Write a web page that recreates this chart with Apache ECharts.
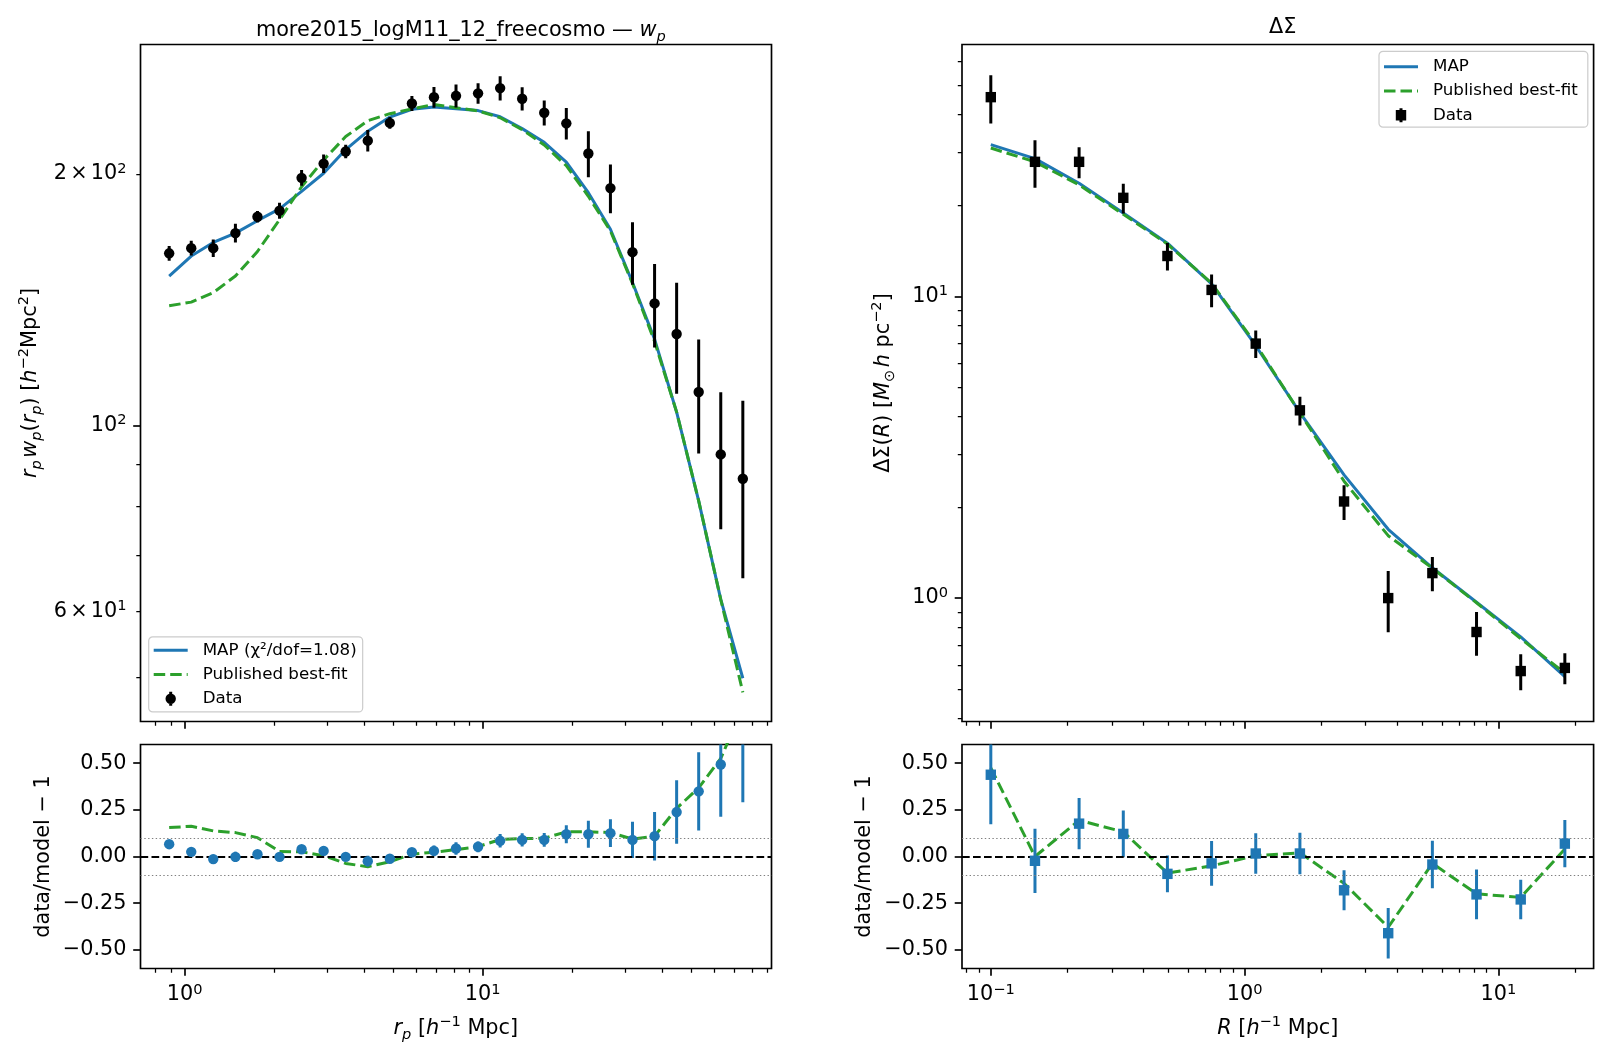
<!DOCTYPE html>
<html><head><meta charset="utf-8">
<script src="https://cdn.jsdelivr.net/npm/echarts@6/dist/echarts.min.js"></script>
<style>html,body{margin:0;padding:0;background:#fff}#c{width:1608px;height:1061px}</style>
</head><body><div id="c"></div>
<script>
// ---------- data: w_p panel ----------
const rpX = [0.888,1.053,1.248,1.481,1.756,2.082,2.469,2.927,3.471,4.116,4.880,5.787,6.862,8.136,9.647,11.44,13.56,16.08,19.07,22.61,26.81,31.79,37.70,44.70,53.00,62.85,74.53];
const wpData = [160.7,163.0,163.0,169.9,177.7,180.7,197.8,205.7,212.7,219.1,230.1,242.7,246.9,247.9,249.6,253.2,245.9,236.6,229.8,211.5,192.3,161.2,140.0,128.7,109.7,92.4,86.4];
const wpErr = [3.3,3.3,3.9,4.4,2.8,4.0,4.3,5.2,3.9,6.5,3.7,5.0,7.0,7.8,7.0,8.4,7.9,8.1,10.0,13.4,12.9,13.8,16.0,19.5,17.1,17.2,20.7];
const wpMap = [150.9,159.5,165.6,169.9,175.8,181.6,190.6,200.3,213.8,224.9,233.8,238.9,240.4,239.2,238.0,234.0,226.5,218.1,206.6,189.9,171.7,148.3,126.9,103.8,81.3,62.0,49.9];
const wpPub = [139.1,140.5,144.2,151.0,161.5,176.3,193.0,207.8,221.6,231.5,236.0,239.1,242.1,239.9,237.8,233.4,225.9,216.5,204.5,188.0,170.9,147.9,126.1,103.8,81.3,62.0,48.0];
const wpResMap = [0.066,0.025,-0.014,-0.002,0.012,-0.002,0.039,0.030,-0.002,-0.025,-0.012,0.023,0.030,0.043,0.052,0.084,0.089,0.089,0.119,0.119,0.125,0.089,0.109,0.238,0.349,0.493,0.74];
const wpResErr = [0.022,0.021,0.024,0.027,0.016,0.022,0.023,0.026,0.018,0.029,0.016,0.021,0.029,0.033,0.029,0.036,0.035,0.037,0.048,0.072,0.074,0.097,0.13,0.17,0.21,0.28,0.45];
const wpResPub = [0.155,0.162,0.137,0.128,0.101,0.027,0.025,0.004,-0.037,-0.055,-0.028,0.012,0.023,0.037,0.053,0.091,0.096,0.098,0.132,0.132,0.128,0.093,0.109,0.258,0.368,0.525,0.80];

// ---------- data: Delta Sigma panel ----------
const dsX = [0.1,0.1493,0.2228,0.3327,0.4966,0.7413,1.1066,1.652,2.466,3.681,5.495,8.203,12.25,18.28];
const dsData = [45.7,27.9,27.9,21.2,13.6,10.5,6.97,4.19,2.09,1.0,1.21,0.772,0.573,0.587];
const dsErr = [8.3,5.0,3.3,2.4,1.42,1.3,0.73,0.455,0.274,0.229,0.157,0.128,0.078,0.069];
const dsMap = [31.8,28.6,23.7,18.9,15.0,11.0,6.86,4.12,2.56,1.69,1.26,0.969,0.744,0.549];
const dsPub = [31.0,27.9,23.4,18.7,14.9,11.05,6.94,4.11,2.44,1.61,1.256,0.965,0.734,0.564];
const dsResMap = [0.438,-0.023,0.176,0.121,-0.093,-0.037,0.016,0.016,-0.181,-0.411,-0.043,-0.203,-0.23,0.069];
const dsResErr = [0.265,0.172,0.137,0.125,0.098,0.12,0.108,0.111,0.107,0.135,0.127,0.133,0.106,0.126];
const dsResPub = [0.475,0.0,0.194,0.132,-0.089,-0.05,0.004,0.02,-0.144,-0.379,-0.037,-0.2,-0.219,0.04];

// ---------- ticks ----------
const wpXMajor = [1,10];
const wpXMinor = [0.8,0.9,2,3,4,5,6,7,8,9,20,30,40,50,60,70,80,90];
const wpYMajor = [100];
const wpYLabels = [60,100,200];
const wpYMinor = [50,60,70,80,90,200];
const dsXMajor = [0.1,1,10];
const dsXMinor = [0.08,0.09,0.2,0.3,0.4,0.5,0.6,0.7,0.8,0.9,2,3,4,5,6,7,8,9,20];
const dsYMajor = [1,10];
const dsYMinor = [0.4,0.5,0.6,0.7,0.8,0.9,2,3,4,5,6,7,8,9,20,30,40,50,60];
const resTicks = [-0.5,-0.25,0,0.25,0.5];
const refLines = [0.1,-0.1];

const FONT = 'DejaVu Sans';
const BLUE = '#1f77b4', GREEN = '#2ca02c';
const DASH = [11.5,5];

const chart = echarts.init(document.getElementById('c'), null, {renderer:'canvas', width:1608, height:1061});

function pairs(xs, ys){ return xs.map((x,i)=>[x, ys[i]]); }
function bars(xs, ys, es){ return xs.map((x,i)=>[x, ys[i]-es[i], ys[i]+es[i]]); }
function errRender(color){
  return function(params, api){
    const x = api.value(0);
    const p1 = api.coord([x, api.value(1)]);
    const p2 = api.coord([x, api.value(2)]);
    return {type:'line', shape:{x1:p1[0], y1:p1[1], x2:p2[0], y2:p2[1]}, style:{stroke:color, lineWidth:3}};
  };
}
function expOf(v){ return Math.round(Math.log10(v)); }
function powLabel(v){
  const e = expOf(v);
  return '{b|10}{s|' + (e < 0 ? '\u2212' + (-e) : e) + '}';
}
function wpYLabel(v){
  if (Math.abs(v-100) < 1) return '{b|10}{s|2}';
  if (Math.abs(v-200) < 1) return '{b|2}{t| }{b|\u00d7}{t| }{b|10}{s|2}';
  if (Math.abs(v-60) < 1) return '{b|6}{t| }{b|\u00d7}{t| }{b|10}{s|1}';
  return '';
}
function resLabel(v){
  return (v < -1e-9 ? '\u2212' : '') + Math.abs(v).toFixed(2);
}
const TICK_RICH = {
  b: {fontFamily:FONT, fontSize:20.8, color:'#000', lineHeight:25},
  t: {fontFamily:FONT, fontSize:10, color:'#000', lineHeight:25},
  s: {fontFamily:FONT, fontSize:14.6, color:'#000', lineHeight:14, verticalAlign:'top'}
};
const TICK_STYLE_MAJOR = {show:true, length:7.3, lineStyle:{color:'#000', width:1.67}};
const TICK_STYLE_MINOR = {show:true, length:4.2, lineStyle:{color:'#000', width:1.25}};

function logXAxes(gi, min, max, majors, minors, showLabels){
  return [
    {type:'log', logBase:10, gridIndex:gi, position:'bottom', min:min, max:max,
     axisLine:{show:false, onZero:false}, splitLine:{show:false}, minorTick:{show:false},
     axisTick:Object.assign({customValues:majors}, TICK_STYLE_MAJOR),
     axisLabel:{show:showLabels, customValues:majors, margin:14, formatter:powLabel, rich:TICK_RICH, color:'#000', fontFamily:FONT, fontSize:20.8}},
    {type:'log', logBase:10, gridIndex:gi, position:'bottom', min:min, max:max,
     axisLine:{show:false, onZero:false}, splitLine:{show:false}, minorTick:{show:false},
     axisTick:Object.assign({customValues:minors}, TICK_STYLE_MINOR),
     axisLabel:{show:false}}
  ];
}
function logYAxes(gi, min, max, majors, labels, minors, fmt){
  return [
    {type:'log', logBase:10, gridIndex:gi, position:'left', min:min, max:max,
     axisLine:{show:false, onZero:false}, splitLine:{show:false}, minorTick:{show:false},
     axisTick:Object.assign({customValues:majors}, TICK_STYLE_MAJOR),
     axisLabel:{show:true, customValues:labels, margin:14, formatter:fmt, rich:TICK_RICH, color:'#000', fontFamily:FONT, fontSize:20.8}},
    {type:'log', logBase:10, gridIndex:gi, position:'left', min:min, max:max,
     axisLine:{show:false, onZero:false}, splitLine:{show:false}, minorTick:{show:false},
     axisTick:Object.assign({customValues:minors}, TICK_STYLE_MINOR),
     axisLabel:{show:false}}
  ];
}
function resYAxis(gi){
  return {type:'value', gridIndex:gi, position:'left', min:-0.6, max:0.6,
    axisLine:{show:false, onZero:false}, splitLine:{show:false}, minorTick:{show:false},
    axisTick:Object.assign({customValues:resTicks}, TICK_STYLE_MAJOR),
    axisLabel:{show:true, customValues:resTicks, margin:14, formatter:resLabel, color:'#000', fontFamily:FONT, fontSize:20.8}};
}

const gridBase = {show:true, borderColor:'#000', borderWidth:1.67, backgroundColor:'#fff', containLabel:false, outerBoundsMode:'none'};
const grids = [
  Object.assign({left:140.5, top:44.5, width:631, height:677}, gridBase),
  Object.assign({left:140.5, top:744.5, width:631, height:224}, gridBase),
  Object.assign({left:962, top:44.5, width:631.6, height:677}, gridBase),
  Object.assign({left:962, top:744.5, width:631.6, height:224}, gridBase)
];

const xAxes = [].concat(
  logXAxes(0, 0.7116, 93.0, wpXMajor, wpXMinor, false),
  logXAxes(1, 0.7116, 93.0, wpXMajor, wpXMinor, true),
  logXAxes(2, 0.0770, 23.73, dsXMajor, dsXMinor, false),
  logXAxes(3, 0.0770, 23.73, dsXMajor, dsXMinor, true)
);
const yAxes = [].concat(
  logYAxes(0, 44.3, 285.5, wpYMajor, wpYLabels, wpYMinor, wpYLabel),
  [resYAxis(1)],
  logYAxes(2, 0.39, 68.3, dsYMajor, dsYMajor, dsYMinor, powLabel),
  [resYAxis(3)]
);

const refMark = {
  silent:true, symbol:['none','none'], label:{show:false}, animation:false,
  data: [{yAxis:0, lineStyle:{color:'#000', width:2, type:[7.7,3.3]}}].concat(
    refLines.map(v => ({yAxis:v, lineStyle:{color:'#808080', width:1.1, type:[1.4,2.4]}})))
};

const series = [
  // top-left
  {type:'line', name:'MAP (\u03c7\u00b2/dof=1.08)', xAxisIndex:0, yAxisIndex:0, data:pairs(rpX, wpMap), symbol:'none',
   lineStyle:{color:BLUE, width:3}, itemStyle:{color:BLUE}, z:2},
  {type:'line', name:'Published best-fit', xAxisIndex:0, yAxisIndex:0, data:pairs(rpX, wpPub), symbol:'none',
   lineStyle:{color:GREEN, width:3, type:DASH}, itemStyle:{color:GREEN}, z:3},
  {type:'custom', name:'Data errors', xAxisIndex:0, yAxisIndex:0, data:bars(rpX, wpData, wpErr),
   encode:{x:0, y:[1,2]}, renderItem:errRender('#000'), clip:true, z:4},
  {type:'scatter', name:'Data', xAxisIndex:0, yAxisIndex:0, data:pairs(rpX, wpData), symbol:'circle', symbolSize:10.4,
   itemStyle:{color:'#000', opacity:1}, z:5},
  // bottom-left
  {type:'line', name:'Published residual wp', xAxisIndex:2, yAxisIndex:2, data:pairs(rpX, wpResPub), symbol:'none',
   lineStyle:{color:GREEN, width:3, type:DASH}, itemStyle:{color:GREEN}, z:3, markLine:refMark},
  {type:'custom', name:'MAP residual errors wp', xAxisIndex:2, yAxisIndex:2, data:bars(rpX, wpResMap, wpResErr),
   encode:{x:0, y:[1,2]}, renderItem:errRender(BLUE), clip:true, z:4},
  {type:'scatter', name:'MAP residual wp', xAxisIndex:2, yAxisIndex:2, data:pairs(rpX, wpResMap), symbol:'circle', symbolSize:10.4,
   itemStyle:{color:BLUE, opacity:1}, z:5},
  // top-right
  {type:'line', name:'MAP', xAxisIndex:4, yAxisIndex:3, data:pairs(dsX, dsMap), symbol:'none',
   lineStyle:{color:BLUE, width:3}, itemStyle:{color:BLUE}, z:2},
  {type:'line', name:'Published best-fit', xAxisIndex:4, yAxisIndex:3, data:pairs(dsX, dsPub), symbol:'none',
   lineStyle:{color:GREEN, width:3, type:DASH}, itemStyle:{color:GREEN}, z:3},
  {type:'custom', name:'Data errors ds', xAxisIndex:4, yAxisIndex:3, data:bars(dsX, dsData, dsErr),
   encode:{x:0, y:[1,2]}, renderItem:errRender('#000'), clip:true, z:4},
  {type:'scatter', name:'Data', xAxisIndex:4, yAxisIndex:3, data:pairs(dsX, dsData), symbol:'rect', symbolSize:10.4,
   itemStyle:{color:'#000', opacity:1}, z:5},
  // bottom-right
  {type:'line', name:'Published residual ds', xAxisIndex:6, yAxisIndex:5, data:pairs(dsX, dsResPub), symbol:'none',
   lineStyle:{color:GREEN, width:3, type:DASH}, itemStyle:{color:GREEN}, z:3, markLine:refMark},
  {type:'custom', name:'MAP residual errors ds', xAxisIndex:6, yAxisIndex:5, data:bars(dsX, dsResMap, dsResErr),
   encode:{x:0, y:[1,2]}, renderItem:errRender(BLUE), clip:true, z:4},
  {type:'scatter', name:'MAP residual ds', xAxisIndex:6, yAxisIndex:5, data:pairs(dsX, dsResMap), symbol:'rect', symbolSize:10.4,
   itemStyle:{color:BLUE, opacity:1}, z:5}
];

const ICON_LINE = 'path://M0,0 M34,14 M0,5.5 L34,5.5 L34,8.5 L0,8.5 Z';
const ICON_DASH = 'path://M0,0 M34,14 M0,5.5 L11.5,5.5 L11.5,8.5 L0,8.5 Z M16.5,5.5 L28,5.5 L28,8.5 L16.5,8.5 Z M33,5.5 L34,5.5 L34,8.5 L33,8.5 Z';
const ICON_CIRC = 'path://M0,0 M34,14 M15.5,0 L18.5,0 L18.5,14 L15.5,14 Z M11.8,7 A5.2,5.2 0 1,1 22.2,7 A5.2,5.2 0 1,1 11.8,7 Z';
const ICON_SQ = 'path://M0,0 M34,14 M15.5,0 L18.5,0 L18.5,14 L15.5,14 Z M11.8,1.8 L22.2,1.8 L22.2,12.2 L11.8,12.2 Z';

const legendBase = {orient:'vertical', itemGap:7.2, itemWidth:34, itemHeight:14, selectedMode:false,
  backgroundColor:'rgba(255,255,255,0.8)', borderColor:'#cccccc', borderWidth:1.2, borderRadius:4,
  textStyle:{fontFamily:FONT, fontSize:16.7, color:'#000', lineHeight:17, padding:[0,0,0,10]},
  itemStyle:{borderWidth:0, opacity:1}};

const LBL_RICH = {
  n: {fontFamily:FONT, fontSize:20.8, color:'#000', lineHeight:28},
  i: {fontFamily:FONT, fontSize:20.8, fontStyle:'italic', color:'#000', lineHeight:28},
  sub: {fontFamily:FONT, fontSize:14.6, fontStyle:'italic', color:'#000', lineHeight:14, verticalAlign:'bottom'},
  subn: {fontFamily:FONT, fontSize:14.6, color:'#000', lineHeight:14, verticalAlign:'bottom'},
  sup: {fontFamily:FONT, fontSize:14.6, color:'#000', lineHeight:14, verticalAlign:'top'},
  sp: {fontFamily:FONT, fontSize:8, color:'#000', lineHeight:28}
};
function label(x, y, text, rot){
  return {type:'text', x:x, y:y, rotation:rot || 0, silent:true,
    style:{text:text, rich:LBL_RICH, align:'center', verticalAlign:'middle', fill:'#000', fontFamily:FONT, fontSize:20.8}};
}

chart.setOption({
  animation:false,
  backgroundColor:'#fff',
  title:[
    {text:'{n|more2015_logM11_12_freecosmo \u2014 }{i|w}{sub|p}', left:455.8, top:12, textAlign:'center',
     textStyle:{rich:LBL_RICH, fontWeight:'normal'}},
    {text:'\u0394\u03a3', left:1277.8, top:12, textAlign:'center',
     textStyle:{fontFamily:FONT, fontSize:20.8, fontWeight:'normal', color:'#000'}}
  ],
  legend:[
    Object.assign({left:148.7, top:636.8, padding:[5,6,4.7,5],
      data:[{name:'MAP (\u03c7\u00b2/dof=1.08)', icon:ICON_LINE}, {name:'Published best-fit', icon:ICON_DASH}, {name:'Data', icon:ICON_CIRC}]}, legendBase),
    Object.assign({left:1379, top:51.3, padding:[7,10,3.5,5],
      data:[{name:'MAP', icon:ICON_LINE}, {name:'Published best-fit', icon:ICON_DASH}, {name:'Data', icon:ICON_SQ}]}, legendBase)
  ],
  grid:grids,
  xAxis:xAxes,
  yAxis:yAxes,
  series:series,
  graphic:[
    label(30.8, 383, '{i|r}{sub|p}{sp| }{i|w}{sub|p}{n|(}{i|r}{sub|p}{n|) [}{i|h}{sup|\u22122}{n|Mpc}{sup|2}{n|]}', Math.PI/2),
    label(44, 856.5, '{n|data/model \u2212 1}', Math.PI/2),
    label(884, 383, '{n|\u0394\u03a3(}{i|R}{n|) [}{i|M}{subn|\u2299}{sp| }{i|h}{n| pc}{sup|\u22122}{n|]}', Math.PI/2),
    label(864.5, 856.5, '{n|data/model \u2212 1}', Math.PI/2),
    label(455.8, 1028.6, '{i|r}{sub|p}{n| [}{i|h}{sup|\u22121}{n| Mpc]}', 0),
    label(1277.8, 1028.6, '{i|R}{n| [}{i|h}{sup|\u22121}{n| Mpc]}', 0)
  ]
});
</script></body></html>
